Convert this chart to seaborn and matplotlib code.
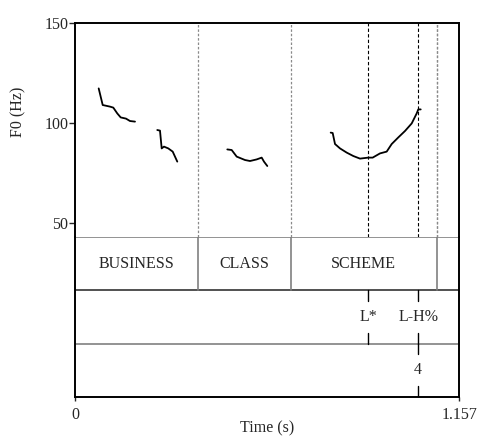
import numpy as np
import pandas as pd
import matplotlib
matplotlib.use("Agg")
import matplotlib.pyplot as plt
import seaborn as sns

# --- F0 contour, one list per voiced stretch (time in s, F0 in Hz) ---
seg1_t = [0.0705, 0.0826, 0.1045, 0.1145, 0.1265, 0.1368, 0.1528, 0.1648, 0.1799]
seg1_f = [117.3, 109.0, 108.2, 107.7, 104.8, 102.8, 102.2, 101.0, 100.7]
seg2_t = [0.2470, 0.2552, 0.2603, 0.2672, 0.2802, 0.2935, 0.3004, 0.3073]
seg2_f = [96.5, 96.2, 87.3, 88.2, 87.3, 85.7, 83.2, 80.7]
seg3_t = [0.4580, 0.4712, 0.4863, 0.5113, 0.5264, 0.5465, 0.5616, 0.5685, 0.5785]
seg3_f = [86.8, 86.5, 83.2, 81.5, 81.0, 81.8, 82.7, 80.7, 78.5]
seg4_t = [0.7695, 0.7755, 0.7825, 0.7976, 0.8178, 0.8376, 0.8578, 0.8827, 0.8960,
          0.9180, 0.9382, 0.9533, 0.9732, 0.9933, 1.0136, 1.0286, 1.0334, 1.0407]
seg4_f = [95.2, 95.0, 89.5, 87.3, 85.2, 83.5, 82.2, 82.7, 82.7,
          84.8, 85.7, 89.5, 92.8, 96.0, 99.8, 104.8, 106.8, 106.8]

# --- TextGrid tiers ---
total_dur = 1.157
words = ["BUSINESS", "CLASS", "SCHEME", ""]
word_bounds = [0.0, 0.369, 0.649, 1.089, 1.157]
tone_labels = ["L*", "L-H%"]
tone_times = [0.883, 1.033]
break_labels = ["4"]
break_times = [1.033]

f0_min, f0_max = 43, 150
y_ticks = [50, 100, 150]
x_ticks = [0, total_dur]
x_tick_labels = ["0", "1.157"]

FS = 11.5

sns.set_theme(style="white")
plt.rcParams["font.family"] = ["Liberation Serif", "DejaVu Serif"]
plt.rcParams["font.size"] = FS

rows = []
for k, (ts, fs) in enumerate([(seg1_t, seg1_f), (seg2_t, seg2_f),
                              (seg3_t, seg3_f), (seg4_t, seg4_f)]):
    for t, f in zip(ts, fs):
        rows.append({"time": t, "f0": f, "seg": k})
pitch = pd.DataFrame(rows)

fig = plt.figure(figsize=(4.78, 4.36), dpi=100)
L, R = 0.1575, 0.9609
top, mid, bot = 0.9472, 0.4564, 0.0894
ax = fig.add_axes([L, mid, R - L, top - mid])
axt = fig.add_axes([L, bot, R - L, mid - bot])

# pitch panel
sns.lineplot(data=pitch, x="time", y="f0", units="seg", estimator=None,
             color="black", linewidth=1.3, ax=ax, sort=False)
ax.set_xlim(0, total_dur)
ax.set_ylim(f0_min, f0_max)
ax.set_yticks(y_ticks)
ax.set_yticklabels([str(v) for v in y_ticks])
ax.set_xticks([])
ax.set_xlabel("")
ax.set_ylabel("")
ax.tick_params(axis="y", direction="out", length=4, width=1, pad=1,
               left=True, labelsize=FS)
for side in ["left", "top", "right"]:
    ax.spines[side].set_color("black")
    ax.spines[side].set_linewidth(1.4)
ax.spines["bottom"].set_visible(False)
fig.text(18 / 478, 1 - 112 / 436, "F0 (Hz)", rotation=90,
         ha="center", va="center", fontsize=FS)

for b in word_bounds[1:-1] + [word_bounds[-2]]:
    ax.axvline(b, color="#8a8a8a", linestyle=(0, (2, 1.5)), linewidth=0.9)
for t in tone_times:
    ax.axvline(t, color="black", linestyle=(0, (3, 2)), linewidth=0.8)

# tier panel
axt.set_xlim(0, total_dur)
axt.set_ylim(0, 3)
axt.set_yticks([])
axt.set_xticks(x_ticks)
axt.set_xticklabels(x_tick_labels, fontsize=FS)
axt.tick_params(axis="x", direction="out", length=3, width=1, pad=4, bottom=True)
axt.set_xlabel("")
for side in ["left", "bottom", "right"]:
    axt.spines[side].set_color("black")
    axt.spines[side].set_linewidth(1.4)
axt.spines["top"].set_visible(False)
fig.text((L + R) / 2, 1 - 428 / 436, "Time (s)", ha="center", va="center",
         fontsize=FS)

axt.axhline(3, color="#808080", linewidth=1.2)
axt.axhline(2, color="#333333", linewidth=1.2)
axt.axhline(1, color="#808080", linewidth=1.2)

# word tier
for b in word_bounds[1:-1]:
    axt.plot([b, b], [2, 3], color="#808080", linewidth=1.2)
for w, a, e in zip(words, word_bounds[:-1], word_bounds[1:]):
    if w:
        axt.text((a + e) / 2, 2.5, w, ha="center", va="center", fontsize=FS)

# point tiers
def point_tier(times, labels, y0):
    for t, lab in zip(times, labels):
        axt.plot([t, t], [y0 + 1, y0 + 0.8], color="black", linewidth=1)
        axt.plot([t, t], [y0, y0 + 0.2], color="black", linewidth=1)
        axt.text(t, y0 + 0.5, lab, ha="center", va="center", fontsize=FS)

point_tier(tone_times, tone_labels, 1)
point_tier(break_times, break_labels, 0)

fig.savefig("out.png", dpi=100)
